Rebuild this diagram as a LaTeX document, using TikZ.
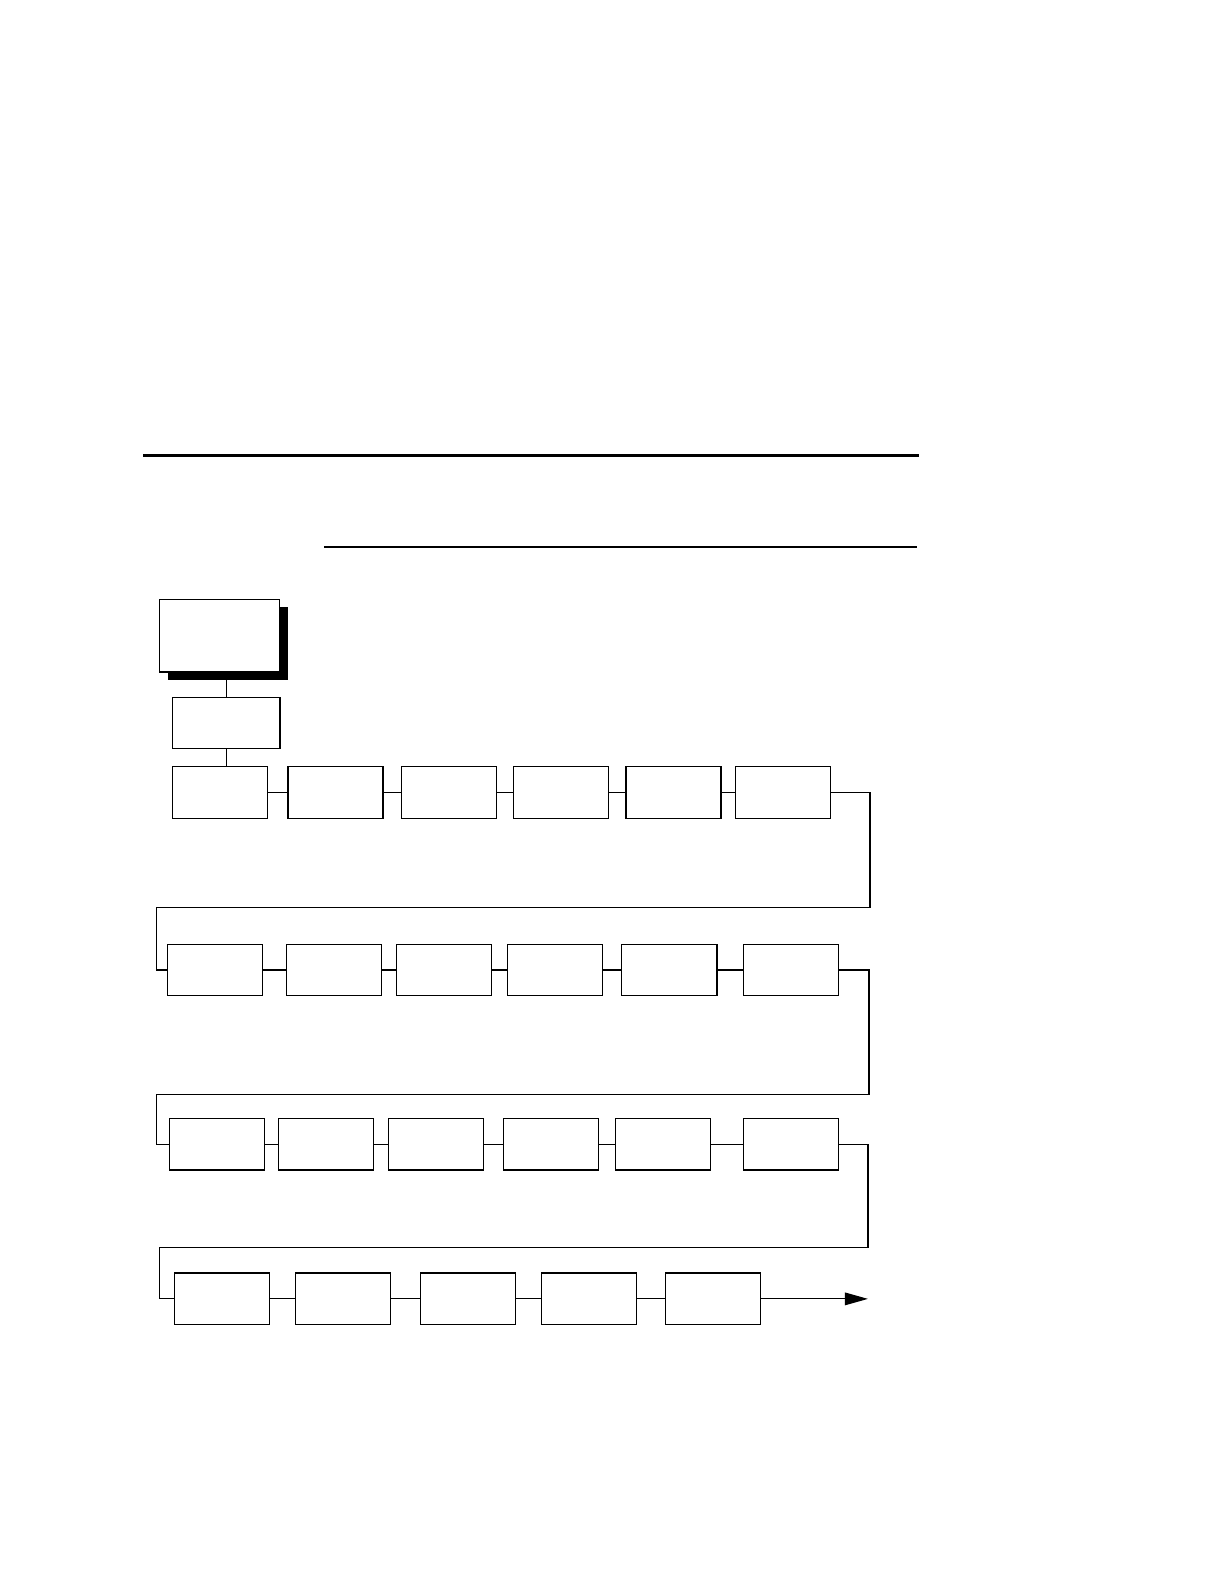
\documentclass[tikz,border=0pt]{standalone}
\usetikzlibrary{arrows.meta,shadows}

\begin{document}
\begin{tikzpicture}[x=0.5052bp,y=-0.5052bp,line width=0.6bp,
        box/.style={draw, fill=white, inner sep=0pt, minimum width=47.5bp, minimum height=25.8bp},
        menu/.style={box, minimum width=60.1bp, minimum height=36.4bp,
            drop shadow={shadow xshift=4bp, shadow yshift=-4bp, fill=black, opacity=1}}]

    % header rules
    \coordinate (hl) at (142,451);  \coordinate (hr) at (910,451);
    \coordinate (sl) at (321,541);  \coordinate (sr) at (908,541);
    \draw[line width=1.5bp] (hl) -- (hr);
    \draw[line width=1bp] (sl) -- (sr);

    % entry boxes
    \node[menu] (top) at (217.5,629) {};
    \node[box, minimum width=53.6bp] (sub) at (224,715.5) {};

    % rows
    \foreach \n/\x in {a/218,b/332,c/444,d/555.5,e/666.5,f/775}
        \node[box] (r1\n) at (\x,784.5) {};
    \foreach \n/\x in {a/212.5,b/330.5,c/439.5,d/549.5,e/662.5,f/783}
        \node[box] (r2\n) at (\x,960) {};
    \foreach \n/\x in {a/214.5,b/322.5,c/431.5,d/545.5,e/656.5,f/783}
        \node[box] (r3\n) at (\x,1132.5) {};
    \foreach \n/\x in {a/219.5,b/339.5,c/463,d/583,e/706}
        \node[box] (r4\n) at (\x,1285.5) {};

    % turn points
    \coordinate (w1) at (861,898);   \coordinate (v1) at (155,898);
    \coordinate (w2) at (860,1083);  \coordinate (v2) at (155,1083);
    \coordinate (w3) at (859,1235);  \coordinate (v3) at (158,1235);
    \coordinate (out) at (859,1285.5);

    \draw (sub.north) -- (sub.north |- top.south);
    \draw (sub.south) -- (sub.south |- r1a.north);

    \foreach \r in {1,2,3}
        \foreach \p/\q in {a/b,b/c,c/d,d/e,e/f}
            \draw (r\r\p) -- (r\r\q);
    \foreach \p/\q in {a/b,b/c,c/d,d/e}
        \draw (r4\p) -- (r4\q);

    \draw (r1f.east) -| (w1) -- (v1) |- (r2a.west);
    \draw (r2f.east) -| (w2) -- (v2) |- (r3a.west);
    \draw (r3f.east) -| (w3) -- (v3) |- (r4a.west);
    \draw[-{Triangle[length=11.5bp,width=6.3bp]}] (r4e.east) -- (out);

    \pgfresetboundingbox
    \useasboundingbox (0bp,0bp) rectangle (611bp,-792bp);
\end{tikzpicture}
\end{document}
